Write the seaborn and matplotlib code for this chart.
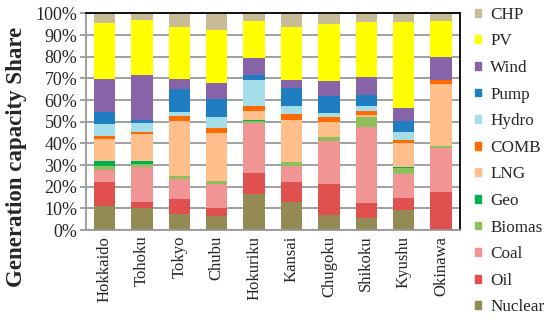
import numpy as np
import pandas as pd
import matplotlib.pyplot as plt
import seaborn as sns
from matplotlib.patches import Patch

# Regiões e participação (%) de cada fonte na capacidade instalada
regions = ['Hokkaido', 'Tohoku', 'Tokyo', 'Chubu', 'Hokuriku',
           'Kansai', 'Chugoku', 'Shikoku', 'Kyushu', 'Okinawa']

nuclear = [11.1, 10.2, 7.5, 6.5, 16.5, 12.8, 7.2, 5.8, 9.1, 0.0]
oil = [11.2, 2.6, 6.7, 3.5, 10.0, 9.5, 14.3, 6.7, 5.7, 17.4]
coal = [5.4, 16.4, 9.2, 11.1, 23.0, 7.5, 19.4, 35.0, 11.2, 20.6]
biomas = [1.8, 1.4, 1.5, 1.8, 0.8, 1.6, 2.3, 4.5, 2.8, 0.8]
geo = [2.2, 1.2, 0.0, 0.0, 0.6, 0.0, 0.0, 0.0, 0.4, 0.0]
lng = [10.3, 12.5, 25.6, 21.7, 4.2, 19.4, 6.6, 1.1, 10.8, 28.6]
comb = [1.5, 1.1, 2.3, 2.3, 2.4, 2.6, 2.4, 2.0, 1.7, 2.0]
hydro = [5.6, 4.1, 1.8, 5.4, 11.9, 3.7, 2.0, 2.4, 3.5, 0.0]
pump = [5.4, 1.4, 10.3, 8.2, 2.0, 8.7, 7.5, 4.7, 5.1, 0.0]
wind = [15.3, 20.5, 4.9, 7.3, 7.8, 3.4, 7.2, 8.4, 6.0, 10.4]
pv = [25.6, 25.5, 23.7, 24.7, 17.4, 24.3, 26.2, 25.6, 39.9, 16.8]
chp = [4.6, 3.1, 6.5, 7.5, 3.4, 6.5, 4.9, 3.8, 3.8, 3.4]

sources = ['Nuclear', 'Oil', 'Coal', 'Biomas', 'Geo', 'LNG',
           'COMB', 'Hydro', 'Pump', 'Wind', 'PV', 'CHP']
colors = ['#948A54', '#E0504F', '#F09494', '#8DC05A', '#00B050', '#FFBF8C',
          '#FF6A00', '#A5DDE8', '#1F7EC2', '#8763A8', '#FFFF00', '#C7BC96']

df = pd.DataFrame(dict(zip(sources, [nuclear, oil, coal, biomas, geo, lng,
                                     comb, hydro, pump, wind, pv, chp])),
                  index=regions) / 100

sns.set_style('white')
plt.rcParams['font.family'] = ['Liberation Serif', 'DejaVu Serif']

fig = plt.figure(figsize=(5.5, 3.26), dpi=100)
ax = fig.add_axes([0.156, 0.294, 0.68, 0.665])

bottom = np.zeros(len(regions))
for src, col in zip(sources, colors):
    sns.barplot(x=regions, y=df[src].values, bottom=bottom, color=col,
                width=0.57, saturation=1, linewidth=0, ax=ax, zorder=2)
    bottom += df[src].values

ax.set_ylim(0, 1)
ax.set_yticks(np.arange(0, 1.01, 0.1))
ax.set_yticklabels([f'{int(round(v * 100))}%' for v in np.arange(0, 1.01, 0.1)],
                   fontsize=13)
ax.yaxis.grid(True, color='#999999', linewidth=1.3, zorder=0)
ax.set_axisbelow(True)
ax.tick_params(axis='y', direction='out', length=4, width=1.3, color='#999999',
               left=True, pad=2)
ax.tick_params(axis='x', length=0, pad=4, labelsize=12)
plt.setp(ax.get_xticklabels(), rotation=90)

for s in ['left', 'bottom']:
    ax.spines[s].set_color('#999999')
    ax.spines[s].set_linewidth(1.3)
for s in ['top', 'right']:
    ax.spines[s].set_color('black')
    ax.spines[s].set_linewidth(1.3)

ax.set_xlabel('')
ax.set_ylabel('')
fig.text(6 / 550, 0.518, 'Generation capacity Share', rotation=90,
         fontsize=16.5, fontweight='bold', ha='left', va='center')

handles = [Patch(color=c, label=s) for s, c in zip(sources, colors)][::-1]
fig.legend(handles=handles, loc='upper left', bbox_to_anchor=(0.852, 1.0),
           frameon=False, fontsize=12.3, handlelength=0.33, handleheight=0.33,
           handletextpad=0.55, labelspacing=0.62, borderaxespad=0)

plt.savefig('out.png', dpi=100)
